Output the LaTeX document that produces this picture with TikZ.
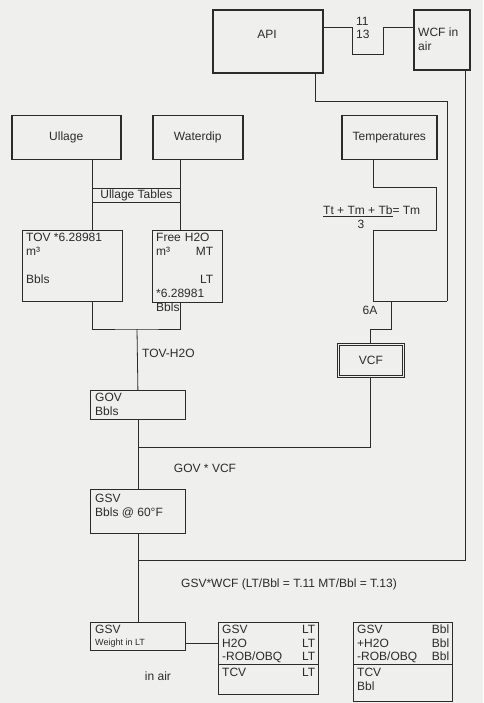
\documentclass[tikz,border=0pt]{standalone}
\usepackage{fontspec}
\setmainfont{Liberation Sans}
\definecolor{scanbg}{HTML}{EFEFED}
\definecolor{scanink}{HTML}{2B2B2B}

\begin{document}
\begin{tikzpicture}[
    x=1pt, y=-1pt,
    font=\fontsize{12}{14}\selectfont,
    % Styles
    flowbox/.style={
        rectangle, draw=scanink, line width=0.8pt,
        anchor=north west, inner sep=0pt, text=scanink
    },
    titlebox/.style={flowbox, line width=1.5pt},
    headbox/.style={flowbox, line width=2.4pt},
    vcfbox/.style={flowbox, line width=0.7pt, double=scanbg, double distance=1.6pt},
    boxtext/.style={anchor=north west, inner sep=0pt, align=left, text=scanink},
    note/.style={inner sep=0pt, text=scanink},
    wire/.style={draw=scanink, line width=0.8pt},
]

%--- Page ---%
\useasboundingbox (0,0) rectangle (483,703);
\fill[scanbg] (0,0) rectangle (483,703);

%--- Top row: API and WCF ---%
\node[headbox, minimum width=110pt, minimum height=63pt] (api) at (212,9) {};
\node[note] (apitxt) at (267,34) {API};
\node[headbox, minimum width=56pt, minimum height=60pt] (wcf) at (413,9) {};
\node[boxtext] (wcftxt) at (418,28) {WCF in\\air};
\node[note, anchor=west] (t11) at (356,21) {11};
\node[note, anchor=west] (t13) at (356,34) {13};

%--- Measuring boxes ---%
\node[titlebox, minimum width=109pt, minimum height=44pt] (ullage) at (11,115) {Ullage};
\node[titlebox, minimum width=90pt, minimum height=44pt] (waterdip) at (152,115) {Waterdip};
\node[titlebox, minimum width=95pt, minimum height=44pt] (temps) at (341,115) {Temperatures};
\node[flowbox, minimum width=88pt, minimum height=14pt] (tables) at (92,188) {Ullage Tables};

%--- Volumes ---%
\node[flowbox, minimum width=100pt, minimum height=71pt] (tov) at (22,230) {};
\node[boxtext] (tovtxt) at (26,232.5) {TOV *6.28981\\m³\\[14pt]Bbls};
\node[flowbox, minimum width=70pt, minimum height=72pt] (freew) at (152,230) {};
\node[boxtext, text width=57pt] (freetxt) at (156,232.5)
    {Free H2O\\m³\hfill MT\\\null\hfill LT\\{}*6.28981\\Bbls};

\node[flowbox, minimum width=95pt, minimum height=29pt] (gov) at (90,390) {};
\node[boxtext] (govtxt) at (95,392.5) {GOV\\Bbls};
\node[flowbox, minimum width=95pt, minimum height=44pt] (gsv) at (90,489) {};
\node[boxtext] (gsvtxt) at (95,493.5) {GSV\\Bbls @ 60°F};

\node[vcfbox, minimum width=65pt, minimum height=32pt] (vcf) at (338,344) {VCF};

%--- Labels on the lines ---%
\node[note, anchor=west] (formula) at (323,211) {\underline{Tt + Tm + Tb}= Tm};
\node[note] (three) at (361,224) {3};
\node[note] (sixA) at (370,310) {6A};
\node[note, anchor=west] (tovh2o) at (142,353) {TOV-H2O};
\node[note] (govvcf) at (205,468) {GOV * VCF};
\node[note] (gsvwcf) at (289,584) {GSV*WCF (LT/Bbl = T.11 MT/Bbl = T.13)};

%--- Results ---%
\node[flowbox, minimum width=95pt, minimum height=28pt] (gsvlt) at (90,622) {};
\node[boxtext] (gsvlttop) at (95,625) {GSV};
\node[boxtext, font=\fontsize{9}{10}\selectfont] (gsvltsub) at (95,638.5) {Weight in LT};
\node[note] (inair) at (158,676) {in air};

\node[flowbox, minimum width=100pt, minimum height=72pt] (ltbox) at (218,622) {};
\node[boxtext, text width=93pt, font=\fontsize{12}{13.5}\selectfont] (lttxt) at (222,625)
    {GSV\hfill LT\\H2O\hfill LT\\-ROB/OBQ\hfill LT};
\node[boxtext, text width=93pt] (lttcv) at (222,668) {TCV\hfill LT};

\node[flowbox, minimum width=99pt, minimum height=79pt] (bblbox) at (353,622) {};
\node[boxtext, text width=92pt, font=\fontsize{12}{13.5}\selectfont] (bbltxt) at (357,625)
    {GSV\hfill Bbl\\+H2O\hfill Bbl\\-ROB/OBQ\hfill Bbl};
\node[boxtext] (bbltcv) at (357,668) {TCV\\Bbl};

%--- Turning points ---%
\coordinate (notchL) at (352,54);
\coordinate (notchR) at (383,54);
\coordinate (apiturn) at (315,101);
\coordinate (apidrop) at (447,301);
\coordinate (tloop1) at (373,187);
\coordinate (tloop2) at (436,230);
\coordinate (vcfjog) at (391,329);
\coordinate (vcfturn) at (0,447);
\coordinate (tovjoin) at (137,329);
\coordinate (wcfdrop) at (465,560);
\coordinate (sepy) at (0,664);

%--- Connectors ---%
\draw[wire] ([yshift=-18pt]api.north east) -| (notchL) -- (notchR) |- ([yshift=-18pt]wcf.north west);
\draw[wire] (api.south -| apiturn) -- (apiturn) -| (apidrop);
\draw[wire] (temps.south -| tloop1) -- (tloop1) -| (tloop2) -- (tloop2 -| tloop1)
    -- (tloop1 |- apidrop) -- (apidrop);
\draw[wire] (vcfjog |- apidrop) -- (vcfjog) -| (vcf.north);

\draw[wire] (tables.west |- ullage.south) -- (tables.west |- tov.north);
\draw[wire] (tables.east |- waterdip.south) -- (tables.east |- freew.north);
\draw[wire] (tables.west |- tov.south) |- (tovjoin) -| (tables.east |- freew.south);
\draw[wire] (tovjoin) -- (gov.north);
\draw[wire] (gov.south) -- (gsv.north);
\draw[wire] (vcf.south) |- (vcfturn -| gov.south);
\draw[wire] (wcf.south -| wcfdrop) -- (wcfdrop) -- (wcfdrop -| gsv.south);
\draw[wire] (gsv.south) -- (gsvlt.north);
\draw[wire] (gsvltsub.east -| gsvlt.east) -- (gsvltsub.east -| ltbox.west);

\draw[wire] (ltbox.west |- sepy) -- (ltbox.east |- sepy);
\draw[wire] (bblbox.west |- sepy) -- (bblbox.east |- sepy);

\end{tikzpicture}
\end{document}
